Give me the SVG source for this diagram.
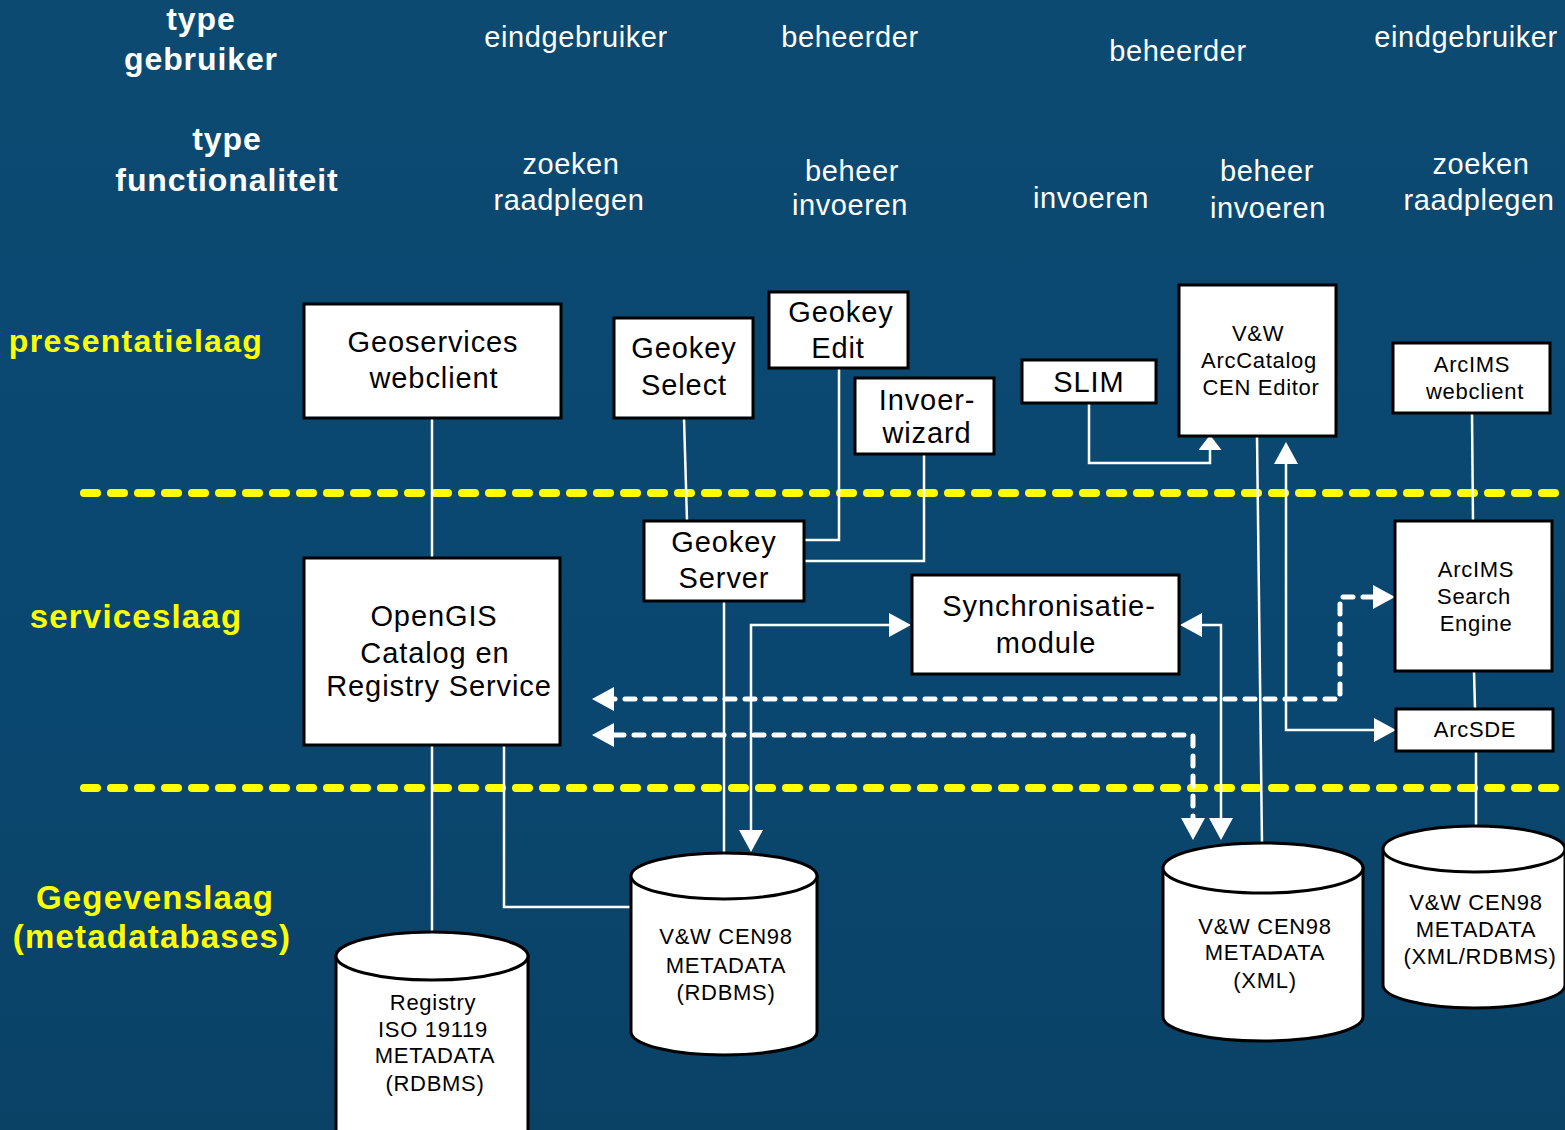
<svg xmlns="http://www.w3.org/2000/svg" width="1565" height="1130" viewBox="0 0 1565 1130">
<style>
.hdr{fill:#fff;font-family:"Liberation Sans",Arial,sans-serif;font-size:29px;letter-spacing:0.6px;text-anchor:middle}
.hb{fill:#fff;font-family:"Liberation Sans",Arial,sans-serif;font-size:32px;font-weight:bold;letter-spacing:0.9px;text-anchor:middle}
.lay{fill:#ffff00;font-family:"Liberation Sans",Arial,sans-serif;font-size:32px;font-weight:bold;letter-spacing:1.3px;text-anchor:middle}
.lay2{fill:#ffff00;font-family:"Liberation Sans",Arial,sans-serif;font-size:33px;font-weight:bold;letter-spacing:1.2px;text-anchor:middle}
.box{fill:#fff;stroke:#000;stroke-width:3}
.t29{fill:#000;font-family:"Liberation Sans",Arial,sans-serif;font-size:29px;letter-spacing:0.9px;text-anchor:middle}
.t22{fill:#000;font-family:"Liberation Sans",Arial,sans-serif;font-size:22px;letter-spacing:0.7px;text-anchor:middle}
.conn{fill:none;stroke:#fff;stroke-width:2.5}
.dash{fill:none;stroke:#fff;stroke-width:5;stroke-dasharray:10 10;stroke-linecap:round;stroke-linejoin:round}
.ydash{fill:none;stroke:#ffff00;stroke-width:8;stroke-dasharray:13 14;stroke-linecap:round}
</style>
<defs>
<linearGradient id="bgg" x1="0" y1="0" x2="0" y2="1">
<stop offset="0" stop-color="#0c4a72"/>
<stop offset="0.6" stop-color="#0a4770"/>
<stop offset="1" stop-color="#0a4266"/>
</linearGradient>
<marker id="ah" viewBox="0 0 22 24" refX="0" refY="12" markerWidth="22" markerHeight="24" markerUnits="userSpaceOnUse" orient="auto-start-reverse">
<path d="M0,0 L22,12 L0,24 Z" fill="#fff"/>
</marker>
<marker id="ahs" viewBox="0 0 15 23" refX="0" refY="11.5" markerWidth="15" markerHeight="23" markerUnits="userSpaceOnUse" orient="auto-start-reverse">
<path d="M0,0 L15,11.5 L0,23 Z" fill="#fff"/>
</marker>
</defs>
<rect x="0" y="0" width="1565" height="1130" fill="url(#bgg)"/>

<g id="headers">
<text class="hb" x="201" y="30">type</text>
<text class="hb" x="201" y="70">gebruiker</text>
<text class="hb" x="227" y="150">type</text>
<text class="hb" x="227" y="191">functionaliteit</text>
<text class="hdr" x="576" y="47">eindgebruiker</text>
<text class="hdr" x="850" y="47">beheerder</text>
<text class="hdr" x="1178" y="61">beheerder</text>
<text class="hdr" x="1466" y="47">eindgebruiker</text>
<text class="hdr" x="571" y="174">zoeken</text>
<text class="hdr" x="569" y="210">raadplegen</text>
<text class="hdr" x="852" y="181">beheer</text>
<text class="hdr" x="850" y="215">invoeren</text>
<text class="hdr" x="1091" y="208">invoeren</text>
<text class="hdr" x="1267" y="181">beheer</text>
<text class="hdr" x="1268" y="218">invoeren</text>
<text class="hdr" x="1481" y="174">zoeken</text>
<text class="hdr" x="1479" y="210">raadplegen</text>
</g>

<g id="layers">
<text class="lay" x="136" y="352">presentatielaag</text>
<text class="lay2" x="136" y="628">serviceslaag</text>
<text class="lay2" x="155" y="909">Gegevenslaag</text>
<text class="lay2" x="152" y="948">(metadatabases)</text>
<line class="ydash" x1="84" y1="493" x2="1565" y2="493"/>
<line class="ydash" x1="84" y1="788" x2="1565" y2="788"/>
</g>

<g id="connectors">
<line class="conn" x1="432" y1="418" x2="432" y2="558"/>
<line class="conn" x1="432" y1="745" x2="432" y2="935"/>
<path class="conn" d="M504,745 V907 H631"/>
<line class="conn" x1="684" y1="418" x2="687" y2="521"/>
<path class="conn" d="M839,368 V540 H804"/>
<path class="conn" d="M924,454 V561 H804"/>
<line class="conn" x1="724" y1="601" x2="724" y2="854"/>
<path class="conn" d="M751,830 V625 H889" marker-start="url(#ah)" marker-end="url(#ah)"/>
<path class="conn" d="M1202,625 H1221 V818" marker-start="url(#ah)" marker-end="url(#ah)"/>
<path class="conn" d="M1089,403 V463 H1210 V450" marker-end="url(#ahs)"/>
<line class="conn" x1="1257" y1="436" x2="1262" y2="844"/>
<path class="conn" d="M1374,730 H1286 V464" marker-start="url(#ah)" marker-end="url(#ah)"/>
<line class="conn" x1="1472" y1="413" x2="1473" y2="521"/>
<line class="conn" x1="1474" y1="671" x2="1475" y2="709"/>
<line class="conn" x1="1476" y1="751" x2="1476" y2="827"/>
<path class="dash" d="M1373,597 H1340 V699 H614" marker-start="url(#ah)" marker-end="url(#ah)"/>
<path class="dash" d="M614,735 H1193 V818" marker-start="url(#ah)" marker-end="url(#ah)"/>
</g>

<g id="geoservices">
<rect class="box" x="304" y="304" width="257" height="114"/>
<text class="t29" x="433" y="352">Geoservices</text>
<text class="t29" x="434" y="388">webclient</text>
</g>
<g id="geokey-select">
<rect class="box" x="614" y="318" width="139" height="100"/>
<text class="t29" x="684" y="358">Geokey</text>
<text class="t29" x="684" y="395">Select</text>
</g>
<g id="geokey-edit">
<rect class="box" x="769" y="292" width="139" height="76"/>
<text class="t29" x="841" y="322">Geokey</text>
<text class="t29" x="838" y="358">Edit</text>
</g>
<g id="invoerwizard">
<rect class="box" x="855" y="378" width="139" height="76"/>
<text class="t29" x="927" y="410">Invoer-</text>
<text class="t29" x="927" y="443">wizard</text>
</g>
<g id="slim">
<rect class="box" x="1022" y="360" width="134" height="43"/>
<text class="t29" x="1089" y="392">SLIM</text>
</g>
<g id="arccatalog">
<rect class="box" x="1179" y="285" width="157" height="151"/>
<text class="t22" x="1258" y="341">V&amp;W</text>
<text class="t22" x="1259" y="368">ArcCatalog</text>
<text class="t22" x="1261" y="395">CEN Editor</text>
</g>
<g id="arcims-webclient">
<rect class="box" x="1393" y="343" width="157" height="70"/>
<text class="t22" x="1472" y="372">ArcIMS</text>
<text class="t22" x="1475" y="399">webclient</text>
</g>
<g id="geokey-server">
<rect class="box" x="644" y="521" width="160" height="80"/>
<text class="t29" x="724" y="552">Geokey</text>
<text class="t29" x="724" y="588">Server</text>
</g>
<g id="opengis">
<rect class="box" x="304" y="558" width="256" height="187"/>
<text class="t29" x="434" y="626">OpenGIS</text>
<text class="t29" x="435" y="663">Catalog en</text>
<text class="t29" x="439" y="696">Registry Service</text>
</g>
<g id="sync">
<rect class="box" x="912" y="575" width="267" height="99"/>
<text class="t29" x="1049" y="616">Synchronisatie-</text>
<text class="t29" x="1046" y="653">module</text>
</g>
<g id="arcims-search">
<rect class="box" x="1395" y="521" width="157" height="150"/>
<text class="t22" x="1476" y="577">ArcIMS</text>
<text class="t22" x="1474" y="604">Search</text>
<text class="t22" x="1476" y="631">Engine</text>
</g>
<g id="arcsde">
<rect class="box" x="1396" y="709" width="157" height="42"/>
<text class="t22" x="1475" y="737">ArcSDE</text>
</g>

<g id="db-registry">
<path class="box" d="M336,956 V1160 H528 V956 Z"/>
<ellipse class="box" cx="432" cy="956" rx="96" ry="24"/>
<text class="t22" x="433" y="1010">Registry</text>
<text class="t22" x="433" y="1037">ISO 19119</text>
<text class="t22" x="435" y="1063">METADATA</text>
<text class="t22" x="435" y="1091">(RDBMS)</text>
</g>
<g id="db-rdbms">
<path class="box" d="M631,876 V1032 A93,23 0 0 0 817,1032 V876 Z"/>
<ellipse class="box" cx="724" cy="876" rx="93" ry="23"/>
<text class="t22" x="726" y="944">V&amp;W CEN98</text>
<text class="t22" x="726" y="973">METADATA</text>
<text class="t22" x="726" y="1000">(RDBMS)</text>
</g>
<g id="db-xml">
<path class="box" d="M1163,868 V1017 A100,24 0 0 0 1363,1017 V868 Z"/>
<ellipse class="box" cx="1263" cy="868" rx="100" ry="25"/>
<text class="t22" x="1265" y="934">V&amp;W CEN98</text>
<text class="t22" x="1265" y="960">METADATA</text>
<text class="t22" x="1265" y="988">(XML)</text>
</g>
<g id="db-xmlrdbms">
<path class="box" d="M1383,849 V985 A91,23 0 0 0 1565,985 V849 Z"/>
<ellipse class="box" cx="1474" cy="849" rx="91" ry="23"/>
<text class="t22" x="1476" y="910">V&amp;W CEN98</text>
<text class="t22" x="1476" y="937">METADATA</text>
<text class="t22" x="1480" y="964">(XML/RDBMS)</text>
</g>
</svg>
